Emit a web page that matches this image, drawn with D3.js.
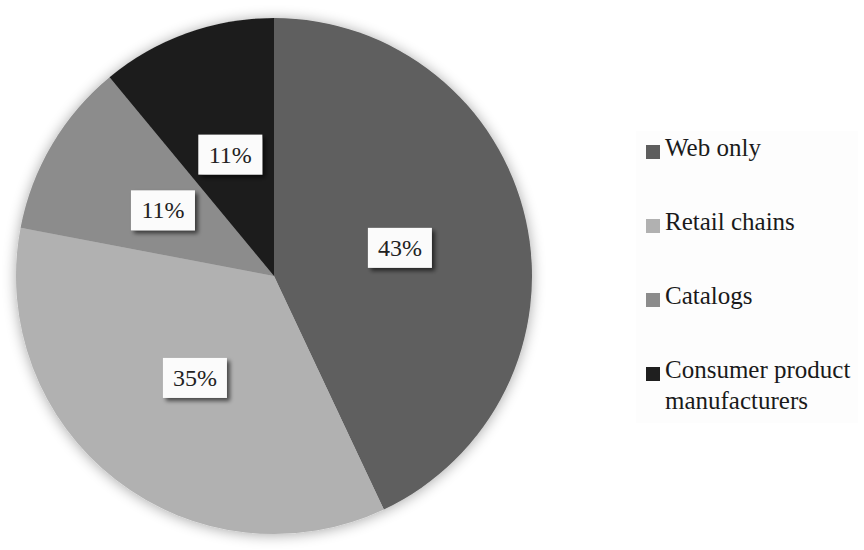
<!DOCTYPE html>
<html>
<head>
<meta charset="utf-8">
<script src="https://cdn.jsdelivr.net/npm/d3@7"></script>
<style>
  html, body { margin: 0; padding: 0; background: #ffffff; }
  svg { display: block; }
  svg text { font-family: "Liberation Serif", Tinos, "Noto Serif", "DejaVu Serif", serif; }
</style>
</head>
<body>
<div id="chart"></div>
<script>
// Share of sales by channel type
const categories = ["Web only", "Retail chains", "Catalogs", "Consumer product manufacturers"];
const values = [43, 35, 11, 11];
const valueLabels = ["43%", "35%", "11%", "11%"];
const legendLines = [["Web only"], ["Retail chains"], ["Catalogs"], ["Consumer product", "manufacturers"]];
const colors = ["#5e5e5e", "#b1b1b1", "#8c8c8c", "#1f1f1f"];

const width = 864, height = 550;
const cx = 274, cy = 276, radius = 258;

const svg = d3.select("#chart").append("svg")
  .attr("width", width)
  .attr("height", height);

const defs = svg.append("defs");

// soft halo around the pie
const glow = defs.append("filter").attr("id", "pieGlow")
  .attr("x", "-10%").attr("y", "-10%").attr("width", "120%").attr("height", "120%");
glow.append("feGaussianBlur").attr("in", "SourceAlpha").attr("stdDeviation", 7).attr("result", "blur");
glow.append("feOffset").attr("in", "blur").attr("dx", 0).attr("dy", 1).attr("result", "off");
glow.append("feComponentTransfer").attr("in", "off").attr("result", "shadow")
  .append("feFuncA").attr("type", "linear").attr("slope", 0.35);
const gm = glow.append("feMerge");
gm.append("feMergeNode").attr("in", "shadow");
gm.append("feMergeNode").attr("in", "SourceGraphic");

// drop shadow under the value boxes
const boxShadow = defs.append("filter").attr("id", "boxShadow")
  .attr("x", "-20%").attr("y", "-20%").attr("width", "150%").attr("height", "160%");
boxShadow.append("feGaussianBlur").attr("in", "SourceAlpha").attr("stdDeviation", 2).attr("result", "blur");
boxShadow.append("feOffset").attr("in", "blur").attr("dx", 3).attr("dy", 3).attr("result", "off");
boxShadow.append("feComponentTransfer").attr("in", "off").attr("result", "shadow")
  .append("feFuncA").attr("type", "linear").attr("slope", 0.6);
const bm = boxShadow.append("feMerge");
bm.append("feMergeNode").attr("in", "shadow");
bm.append("feMergeNode").attr("in", "SourceGraphic");

const pie = d3.pie().sort(null).value(d => d);
const arcs = pie(values);

const arc = d3.arc().innerRadius(0).outerRadius(radius);
const labelArc = d3.arc().innerRadius(radius * 0.5).outerRadius(radius * 0.5);

const g = svg.append("g").attr("transform", `translate(${cx},${cy})`);

g.append("g").attr("filter", "url(#pieGlow)")
  .selectAll("path")
  .data(arcs)
  .join("path")
  .attr("d", arc)
  .attr("fill", (d, i) => colors[i]);

// value boxes
const boxW = 64, boxH = 40;
const labels = g.selectAll("g.lbl")
  .data(arcs)
  .join("g")
  .attr("class", "lbl")
  .attr("transform", d => {
    const [x, y] = labelArc.centroid(d);
    return `translate(${x},${y})`;
  });

labels.append("rect")
  .attr("x", -boxW / 2)
  .attr("y", -boxH / 2)
  .attr("width", boxW)
  .attr("height", boxH)
  .attr("fill", "#fbfbfb")
  .attr("filter", "url(#boxShadow)");

labels.append("text")
  .attr("text-anchor", "middle")
  .attr("y", 8)
  .attr("font-size", 24)
  .attr("fill", "#222")
  .text((d, i) => valueLabels[i]);

// legend
const legend = svg.append("g").attr("transform", "translate(646,145)");
const rowStep = 74;

legend.append("rect")
  .attr("x", -10).attr("y", -14)
  .attr("width", 222).attr("height", 292)
  .attr("fill", "#fdfdfd");

const rows = legend.selectAll("g.row")
  .data(categories)
  .join("g")
  .attr("class", "row")
  .attr("transform", (d, i) => `translate(0,${i * rowStep})`);

rows.append("rect")
  .attr("width", 14)
  .attr("height", 14)
  .attr("fill", (d, i) => colors[i]);

rows.append("text")
  .attr("x", 19)
  .attr("y", 11)
  .attr("font-size", 25)
  .attr("fill", "#1a1a1a")
  .selectAll("tspan")
  .data((d, i) => legendLines[i])
  .join("tspan")
  .attr("x", 19)
  .attr("dy", (d, j) => j === 0 ? 0 : 31)
  .text(d => d);
</script>
</body>
</html>
